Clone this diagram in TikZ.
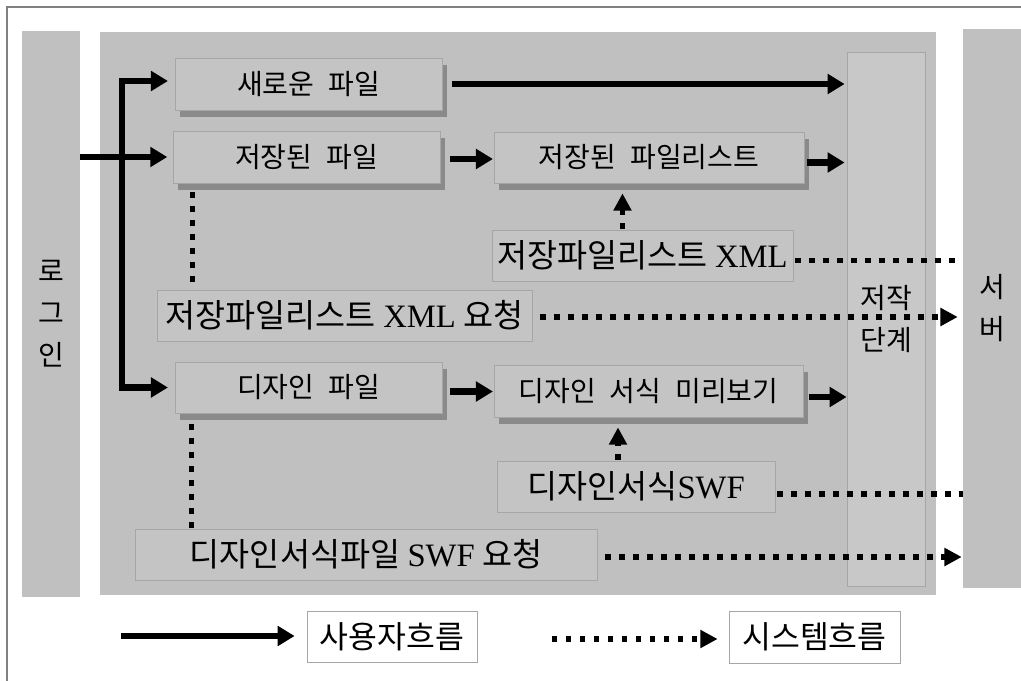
\documentclass[tikz,border=0pt]{standalone}
\usepackage{fontspec}
\setmainfont{Noto Sans CJK KR}
\newfontfamily\lat{Liberation Serif}
\usetikzlibrary{arrows.meta,shadows,calc}
\definecolor{panelc}{HTML}{C0C0C0}
\definecolor{colc}{HTML}{C0C0C0}
\definecolor{boxfill}{HTML}{C4C4C4}
\definecolor{boxline}{HTML}{A6A6A6}
\definecolor{stagefill}{HTML}{C8C8C8}
\definecolor{shadowc}{HTML}{8A8A8A}
\definecolor{framec}{HTML}{808080}
\begin{document}
\begin{tikzpicture}[x=0.75pt,y=-0.75pt,
  sz/.style 2 args={minimum width=#1*0.75pt, minimum height=#2*0.75pt},
  col/.style={fill=colc, draw=none, inner sep=0pt, align=center, font=\fontsize{21}{31.5}\selectfont},
  box/.style={fill=boxfill, draw=boxline, line width=0.6pt, inner sep=0pt},
  sbox/.style={box, font=\fontsize{21}{24}\selectfont,
     drop shadow={shadow xshift=3.75pt, shadow yshift=-5.25pt, fill=shadowc, opacity=1}},
  tbox/.style={box, font=\fontsize{24.5}{28}\selectfont},
  legbox/.style={fill=white, draw=boxline, line width=0.6pt, inner sep=0pt, font=\fontsize{23.5}{27}\selectfont},
  uflow/.style={line width=5pt, -{Triangle[length=12.75pt,width=14.5pt]}},
  uline/.style={line width=5pt},
  sflow/.style={line width=4pt, dash pattern=on 4pt off 6.5pt, -{Triangle[length=13pt,width=13pt]}},
  sline/.style={line width=4pt, dash pattern=on 4pt off 6.5pt}
]
\useasboundingbox (0,0) rectangle (1021,681);
\fill[white] (0,0) rectangle (1021,681);
\draw[framec, line width=0.9pt] (7,681) -- (7,7) -- (1021,7);

% columns and panel
\node[col, sz={58}{566}] (login) at (51,314) {로\\그\\인};
\node[fill=panelc, inner sep=0pt, sz={836}{563}] (panel) at (518,313.5) {};
\node[col, sz={58}{559}] (server) at (992,308.5) {서\\버};
\node[fill=stagefill, draw=boxline, line width=0.6pt, inner sep=0pt, sz={78}{534}, align=center,
      font=\fontsize{21}{31.5}\selectfont] (stage) at (886,319) {저작\\단계};

% boxes
\node[sbox, sz={267}{52}] (new) at (308.5,84) {새로운\hspace{0.5em}파일};
\node[sbox, sz={267}{52}] (saved) at (306.5,157) {저장된\hspace{0.5em}파일};
\node[sbox, sz={310}{51}] (savedlist) at (649,157.5) {저장된\hspace{0.5em}파일리스트};
\node[tbox, sz={301}{51}] (xml) at (642.5,255.5) {저장파일리스트 {\lat XML}};
\node[tbox, sz={375}{51}] (xmlreq) at (344.5,315.5) {저장파일리스트 {\lat XML} 요청};
\node[sbox, sz={267}{51}] (design) at (308.5,387.5) {디자인\hspace{0.5em}파일};
\node[sbox, sz={309}{52}] (preview) at (648.5,391) {디자인\hspace{0.5em}서식\hspace{0.5em}미리보기};
\node[tbox, sz={278}{51}] (swf) at (636,486.5) {디자인서식{\lat SWF}};
\node[tbox, sz={462}{51}] (swfreq) at (366,554.5) {디자인서식파일 {\lat SWF} 요청};

% legend
\node[legbox, sz={170}{51}] (leg1) at (392,636.5) {사용자흐름};
\node[legbox, sz={171}{52}] (leg2) at (814.5,637) {시스템흐름};

% user flow
\coordinate (trunk) at (122,0);
\draw[uflow, shorten >=4pt] (login.east |- saved.west) -- (saved.west);
\draw[uline, {Triangle[length=12.75pt,width=14.5pt]}-{Triangle[length=12.75pt,width=14.5pt]},
      shorten <=5pt, shorten >=5pt]
  ($(new.west)+(0,-3)$) coordinate (t1) -- (trunk |- t1) -- (trunk |- design.west) -- (design.west);
\draw[uflow, shorten <=7.5pt, shorten >=1.5pt] (new.east) -- (new.east -| stage.west);
\draw[uflow, shorten <=7.5pt, shorten >=0.5pt] ($(saved.east)+(0,2)$) coordinate (t2) -- (t2 -| savedlist.west);
\draw[uflow, shorten <=2.25pt, shorten >=1.5pt] ($(savedlist.east)+(0,5)$) coordinate (t3) -- (t3 -| stage.west);
\draw[uflow, shorten <=6pt, shorten >=0.5pt] ($(design.east)+(0,4)$) coordinate (t4) -- (t4 -| preview.west);
\draw[uflow, shorten <=4.5pt, shorten >=0pt] ($(preview.east)+(0,6)$) coordinate (t5) -- (t5 -| stage.west);

% system flow
\draw[sflow, shorten <=0.75pt, shorten >=7.5pt] ($(xml.north)+(-20,0)$) coordinate (s1) -- (s1 |- savedlist.south);
\draw[sline, shorten <=1.5pt] ($(xml.east)+(0,5)$) coordinate (s2) -- (s2 -| server.west);
\draw[sflow, shorten <=6pt, shorten >=3.75pt] ($(xmlreq.east)+(0,1.5)$) coordinate (s3) -- (s3 -| server.west);
\draw[sline, shorten <=6.75pt, shorten >=3pt] ($(saved.south west)+(20,0)$) coordinate (s4) -- (s4 |- xmlreq.north);
\draw[sline, shorten <=8.25pt, shorten >=0.75pt] ($(design.south west)+(17,0)$) coordinate (s5) -- (s5 |- swfreq.north);
\draw[sflow, shorten <=0.75pt, shorten >=7.5pt] ($(swf.north)+(-18,0)$) coordinate (s6) -- (s6 |- preview.south);
\draw[sline, shorten <=1.5pt] ($(swf.east)+(0,7.5)$) coordinate (s7) -- (s7 -| server.west);
\draw[sflow, shorten <=6pt, shorten >=0.75pt] ($(swfreq.east)+(0,2.5)$) coordinate (s8) -- (s8 -| server.west);

% legend arrows
\coordinate (l1) at (121,636);
\draw[uflow, shorten >=9pt] (l1) -- (l1 -| leg1.west);
\coordinate (l2) at (552,639);
\draw[sflow, shorten >=8.25pt] (l2) -- (l2 -| leg2.west);
\end{tikzpicture}
\end{document}
